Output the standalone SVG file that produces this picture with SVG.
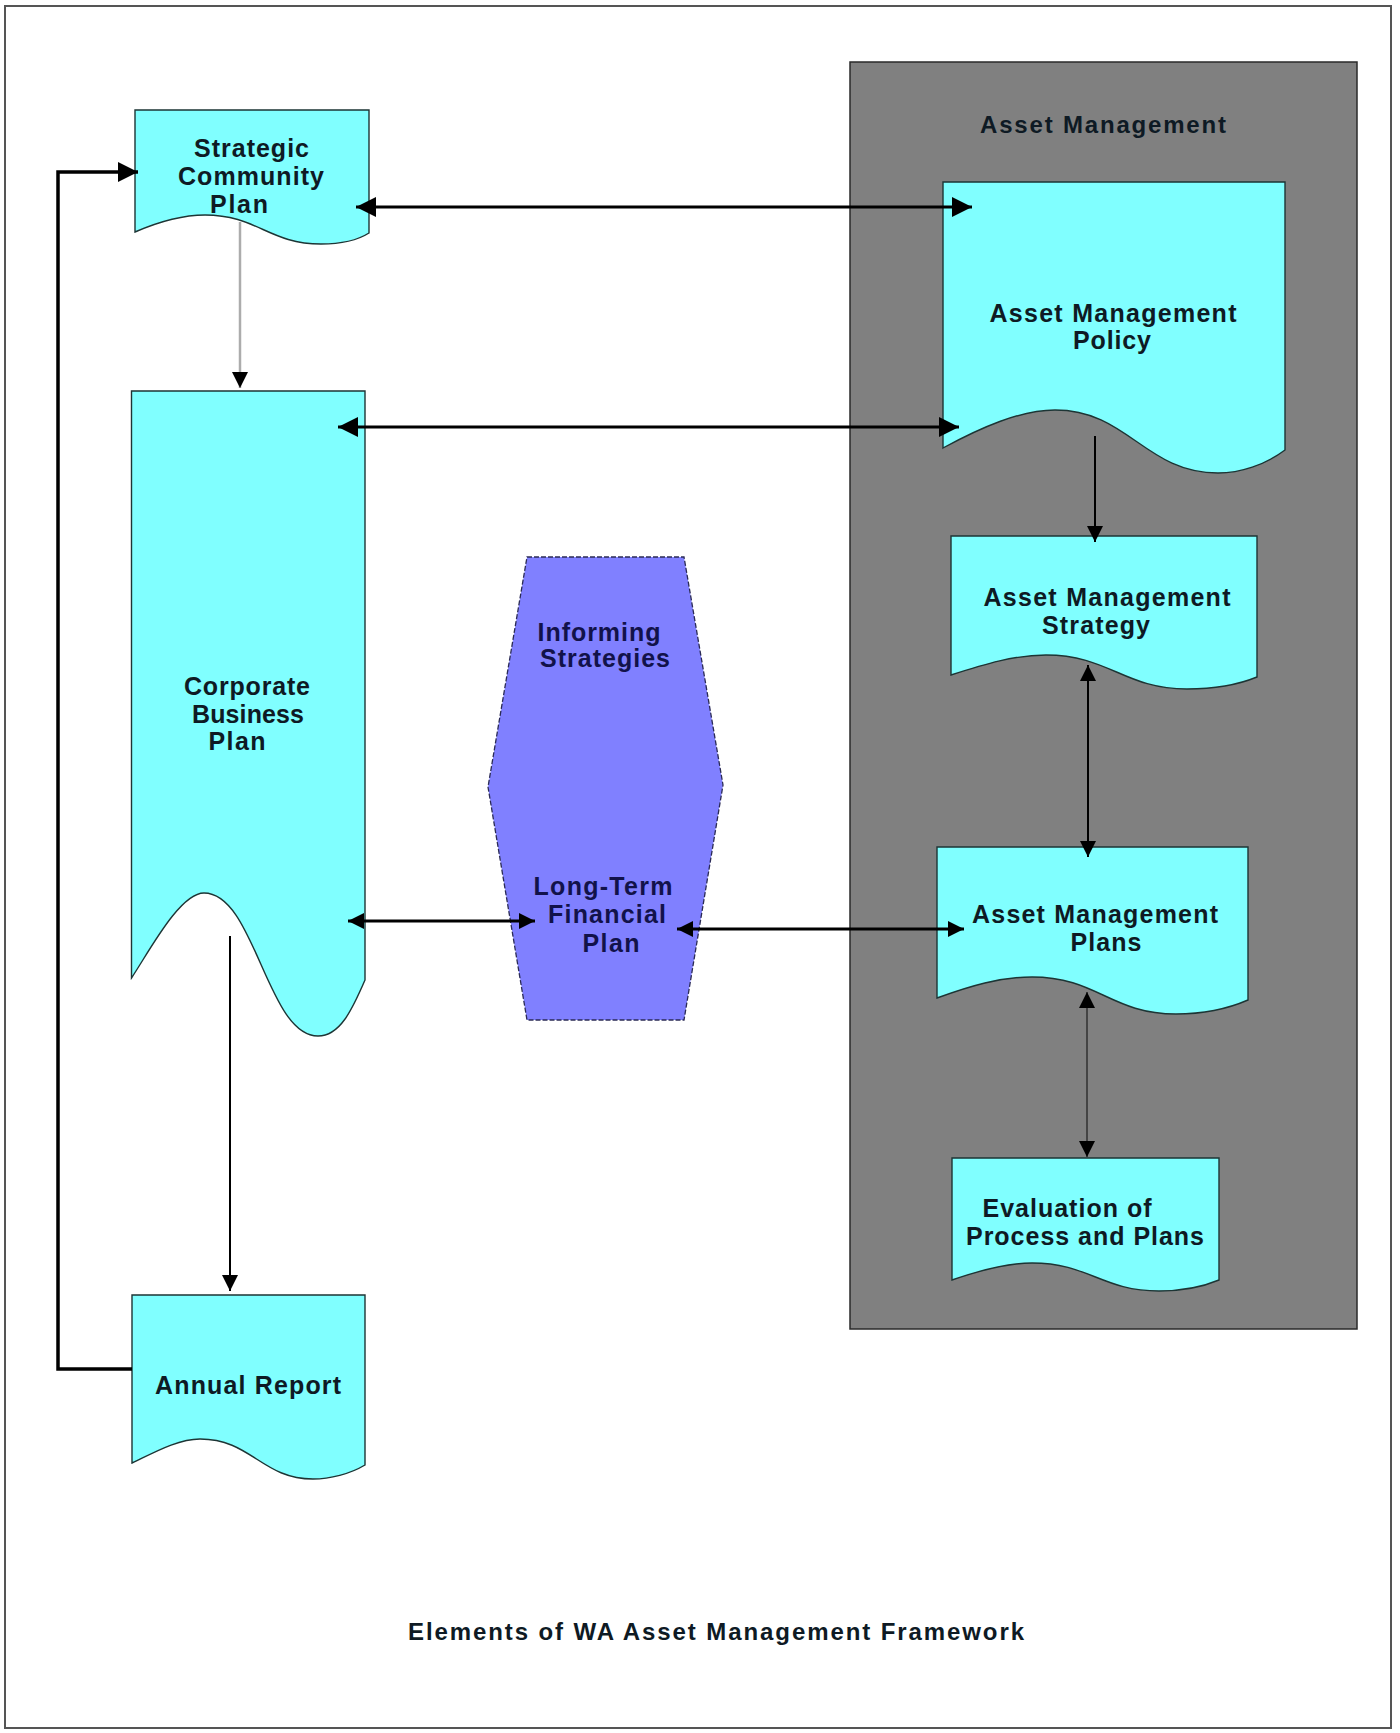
<svg xmlns="http://www.w3.org/2000/svg" width="1400" height="1733" viewBox="0 0 1400 1733">
<style>
.doc{fill:#80FFFF;stroke:#1d3535;stroke-width:1.4}
.t{font-family:"Liberation Sans",Arial,sans-serif;font-weight:bold;font-size:25px;fill:#0e1a24;text-anchor:middle}
.th{fill:#12124a}
.thick{stroke:#000;stroke-width:3;fill:none}
.thin{stroke:#000;stroke-width:2;fill:none}
</style>
<defs>
<marker id="aL" markerUnits="userSpaceOnUse" viewBox="0 0 20 20" refX="20" refY="10" markerWidth="20" markerHeight="20" orient="auto-start-reverse"><path d="M0,0 L20,10 L0,20 Z" fill="#000"/></marker>
<marker id="aS" markerUnits="userSpaceOnUse" viewBox="0 0 16 16" refX="16" refY="8" markerWidth="16" markerHeight="16" orient="auto-start-reverse"><path d="M0,0 L16,8 L0,16 Z" fill="#000"/></marker>
</defs>
<rect x="0" y="0" width="1400" height="1733" fill="#fff"/>
<rect x="5" y="6" width="1386" height="1722" fill="none" stroke="#555" stroke-width="2"/>

<g id="asset-management-group">
<rect x="850" y="62" width="507" height="1267" fill="#808080" stroke="#2a2a2a" stroke-width="1.5"/>
<text class="t" x="1103" y="133" textLength="246" lengthAdjust="spacing" fill="#1a1a1a" style="font-size:24px">Asset Management</text>
</g>

<g id="strategic-community-plan">
<path class="doc" d="M135,110 H369 V233 C358,240 340,244 321,244 C269,244 257,215 205,215 C180,215 158,222 135,232 Z"/>
<text class="t" x="251.5" y="157" textLength="115" lengthAdjust="spacing">Strategic</text>
<text class="t" x="251" y="185" textLength="146" lengthAdjust="spacing">Community</text>
<text class="t" x="239" y="213" textLength="58" lengthAdjust="spacing">Plan</text>
</g>

<g id="corporate-business-plan">
<path class="doc" d="M131.5,391 H365 V980 C352,1010 340,1036 318,1036 C267,1036 255,893 204,893 C180,893 150,950 131.5,978 Z"/>
<text class="t" x="247" y="695" textLength="126" lengthAdjust="spacing">Corporate</text>
<text class="t" x="248" y="723" textLength="112" lengthAdjust="spacing">Business</text>
<text class="t" x="237" y="750" textLength="57" lengthAdjust="spacing">Plan</text>
</g>

<g id="annual-report">
<path class="doc" d="M132,1295 H365 V1465 C350,1474 330,1479 313,1479 C262,1479 251,1439 200,1439 C178,1439 155,1452 132,1463 Z"/>
<text class="t" x="248" y="1394" textLength="186" lengthAdjust="spacing">Annual Report</text>
</g>

<g id="informing-strategies">
<polygon points="527,557 684,557 723,785 684,1020 527,1020 488,787" fill="#8080FF" stroke="#2a2a55" stroke-width="1.3" stroke-dasharray="5,2"/>
<text class="t th" x="599" y="641" textLength="123" lengthAdjust="spacing">Informing</text>
<text class="t th" x="605" y="667" textLength="130" lengthAdjust="spacing">Strategies</text>
<text class="t th" x="603" y="895" textLength="139" lengthAdjust="spacing">Long-Term</text>
<text class="t th" x="607" y="923" textLength="118" lengthAdjust="spacing">Financial</text>
<text class="t th" x="611" y="952" textLength="57" lengthAdjust="spacing">Plan</text>
</g>

<g id="asset-management-policy">
<path class="doc" d="M943,182 H1285 V450 C1265,465 1240,473 1218,473 C1145,473 1128,410 1055,410 C1020,410 980,428 943,448 Z"/>
<text class="t" x="1113" y="322" textLength="247" lengthAdjust="spacing">Asset Management</text>
<text class="t" x="1112" y="349" textLength="78" lengthAdjust="spacing">Policy</text>
</g>

<g id="asset-management-strategy">
<path class="doc" d="M951,536 H1257 V677 C1235,686 1210,689 1187,689 C1124,689 1109,655 1046,655 C1015,655 985,664 951,675 Z"/>
<text class="t" x="1107" y="606" textLength="247" lengthAdjust="spacing">Asset Management</text>
<text class="t" x="1096" y="634" textLength="108" lengthAdjust="spacing">Strategy</text>
</g>

<g id="asset-management-plans">
<path class="doc" d="M937,847 H1248 V1000 C1225,1010 1200,1014 1176,1014 C1111,1014 1097,977 1032,977 C1000,977 970,986 937,998 Z"/>
<text class="t" x="1095" y="923" textLength="246" lengthAdjust="spacing">Asset Management</text>
<text class="t" x="1106" y="951" textLength="71" lengthAdjust="spacing">Plans</text>
</g>

<g id="evaluation">
<path class="doc" d="M952,1158 H1219 V1280 C1200,1288 1180,1291 1159,1291 C1102,1291 1089,1263 1032,1263 C1005,1263 978,1271 952,1280 Z"/>
<text class="t" x="1067" y="1217" textLength="169" lengthAdjust="spacing">Evaluation of</text>
<text class="t" x="1085" y="1245" textLength="238" lengthAdjust="spacing">Process and Plans</text>
</g>

<g id="connectors">
<path class="thick" d="M356,207 H972" marker-start="url(#aL)" marker-end="url(#aL)"/>
<path class="thick" d="M338,427 H959" marker-start="url(#aL)" marker-end="url(#aL)"/>
<path d="M240,222 V388" stroke="#acacac" stroke-width="2.5" fill="none" marker-end="url(#aS)"/>
<path class="thin" d="M1095,436 V542" marker-end="url(#aS)"/>
<path class="thin" d="M1088,665 V857" marker-start="url(#aS)" marker-end="url(#aS)"/>
<path d="M1087,992 V1157" stroke="#444" stroke-width="2" fill="none" marker-start="url(#aS)" marker-end="url(#aS)"/>
<path class="thick" d="M348,921 H535" marker-start="url(#aS)" marker-end="url(#aS)"/>
<path class="thick" d="M677,929 H964" marker-start="url(#aS)" marker-end="url(#aS)"/>
<path class="thin" d="M230,936 V1291" marker-end="url(#aS)"/>
<path d="M132,1369 H58 V172 H138" stroke="#000" stroke-width="3.5" fill="none" marker-end="url(#aL)"/>
</g>

<g id="caption">
<text class="t" x="716" y="1640" textLength="616" lengthAdjust="spacing" fill="#111" style="font-size:24px">Elements of WA Asset Management Framework</text>
</g>
</svg>
